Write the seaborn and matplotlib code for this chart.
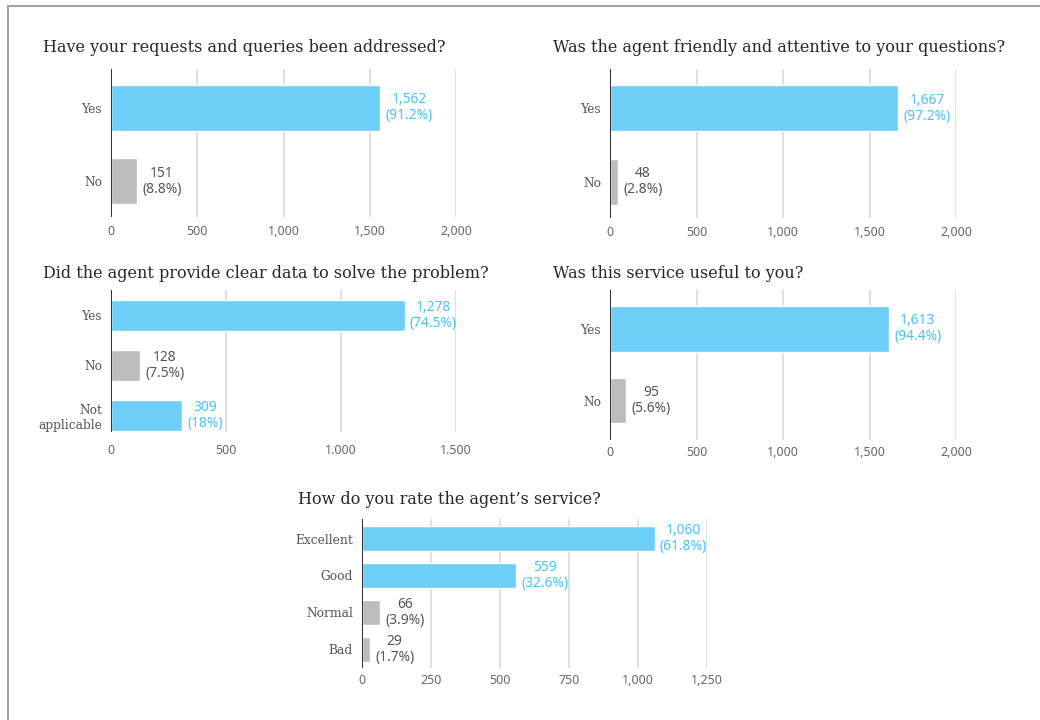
import matplotlib
matplotlib.use("Agg")
import matplotlib.pyplot as plt
from matplotlib.patches import Rectangle
import seaborn as sns
import pandas as pd

# ---- survey data ----
q1_title = "Have your requests and queries been addressed?"
q1_answers = ["Yes", "No"]
q1_counts = [1562, 151]
q1_pct = [91.2, 8.8]

q2_title = "Was the agent friendly and attentive to your questions?"
q2_answers = ["Yes", "No"]
q2_counts = [1667, 48]
q2_pct = [97.2, 2.8]

q3_title = "Did the agent provide clear data to solve the problem?"
q3_answers = ["Yes", "No", "Not\napplicable"]
q3_counts = [1278, 128, 309]
q3_pct = [74.5, 7.5, 18]

q4_title = "Was this service useful to you?"
q4_answers = ["Yes", "No"]
q4_counts = [1613, 95]
q4_pct = [94.4, 5.6]

q5_title = "How do you rate the agent\u2019s service?"
q5_answers = ["Excellent", "Good", "Normal", "Bad"]
q5_counts = [1060, 559, 66, 29]
q5_pct = [61.8, 32.6, 3.9, 1.7]

ticks_2000 = [0, 500, 1000, 1500, 2000]
ticks_2000_labels = ["0", "500", "1,000", "1,500", "2,000"]
ticks_1500 = [0, 500, 1000, 1500]
ticks_1500_labels = ["0", "500", "1.000", "1.500"]
ticks_1250 = [0, 250, 500, 750, 1000, 1250]
ticks_1250_labels = ["0", "250", "500", "750", "1,000", "1,250"]

BLUE = "#6dcff6"
GRAY = "#bdbdc0"
BLUE_TXT = "#4cc2f3"
GRAY_TXT = "#555555"

sns.set_theme(style="white")
SERIF = ["DejaVu Serif"]
SANS = ["Noto Sans", "DejaVu Sans"]
plt.rcParams["font.family"] = SANS

W, H = 1040, 720
fig = plt.figure(figsize=(W / 100, H / 100), dpi=100)
fig.patch.set_facecolor("white")

# outer frame (open on the right and bottom)
fig.add_artist(Rectangle((8 / W, -0.2), 1.5, (H - 6) / H + 0.2,
                         transform=fig.transFigure, fill=False,
                         edgecolor="#a3a3a3", lw=1.5))


def make_axes(left, right, top, bottom):
    return fig.add_axes([left / W, 1 - bottom / H, (right - left) / W, (bottom - top) / H])


def panel(box, title, title_xy, answers, counts, pct, colors, ticks, tick_labels,
          ylim, bar_w, tick_pad):
    ax = make_axes(*box)
    df = pd.DataFrame({"answer": answers, "count": counts})
    pal = dict(zip(answers, colors))
    sns.barplot(data=df, x="count", y="answer", hue="answer", palette=pal,
                orient="h", width=bar_w, legend=False, saturation=1, ax=ax, zorder=2)
    ax.set_xlim(0, ticks[-1])
    ax.set_ylim(*ylim)
    ax.set_xticks(ticks)
    ax.set_xticklabels(tick_labels)
    ax.set_xlabel("")
    ax.set_ylabel("")
    for s in ax.spines.values():
        s.set_visible(False)
    ax.grid(False)
    for t in ticks[1:]:
        ax.axvline(t, color="#dcdcdc", lw=1.3, zorder=0)
    ax.axvline(0, color="#2b2b2b", lw=1.4, zorder=3)
    ax.tick_params(axis="x", length=0, pad=tick_pad, labelsize=9, labelcolor="#666666")
    ax.tick_params(axis="y", length=0, pad=6.5, labelsize=8.8, labelcolor="#555555")
    for lab in ax.get_yticklabels():
        lab.set_fontfamily(SERIF)
        lab.set_multialignment("right")
    for i, (v, p, c) in enumerate(zip(counts, pct, colors)):
        txt_col = BLUE_TXT if c == BLUE else GRAY_TXT
        ax.annotate(f"{v:,}\n({p:g}%)", xy=(v, i), xytext=(5, 0),
                    textcoords="offset pixels", ha="left", va="center",
                    multialignment="center", fontsize=10, color=txt_col,
                    linespacing=1.1, annotation_clip=False)
    fig.text(title_xy[0] / W, 1 - title_xy[1] / H, title, fontsize=11.5,
             color="#262626", family=SERIF, ha="left", va="center")
    return ax


panel((111, 456, 69, 217), q1_title, (43, 48), q1_answers, q1_counts, q1_pct,
      [BLUE, GRAY], ticks_2000, ticks_2000_labels, (1.49, -0.53), 0.626, 6)
panel((610, 956, 69, 218), q2_title, (553, 48), q2_answers, q2_counts, q2_pct,
      [BLUE, GRAY], ticks_2000, ticks_2000_labels, (1.49, -0.53), 0.626, 6)
panel((111, 456, 290, 432), q3_title, (43, 274), q3_answers, q3_counts, q3_pct,
      [BLUE, GRAY, BLUE], ticks_1500, ticks_1500_labels, (2.33, -0.51), 0.62, 9)
panel((610, 956, 290, 440), q4_title, (553, 274), q4_answers, q4_counts, q4_pct,
      [BLUE, GRAY], ticks_2000, ticks_2000_labels, (1.55, -0.54), 0.64, 4)
panel((362, 707, 519, 668), q5_title, (298, 500), q5_answers, q5_counts, q5_pct,
      [BLUE, BLUE, GRAY, GRAY], ticks_1250, ticks_1250_labels, (3.51, -0.53), 0.68, 4)

fig.savefig("out.png", dpi=100, facecolor="white")
